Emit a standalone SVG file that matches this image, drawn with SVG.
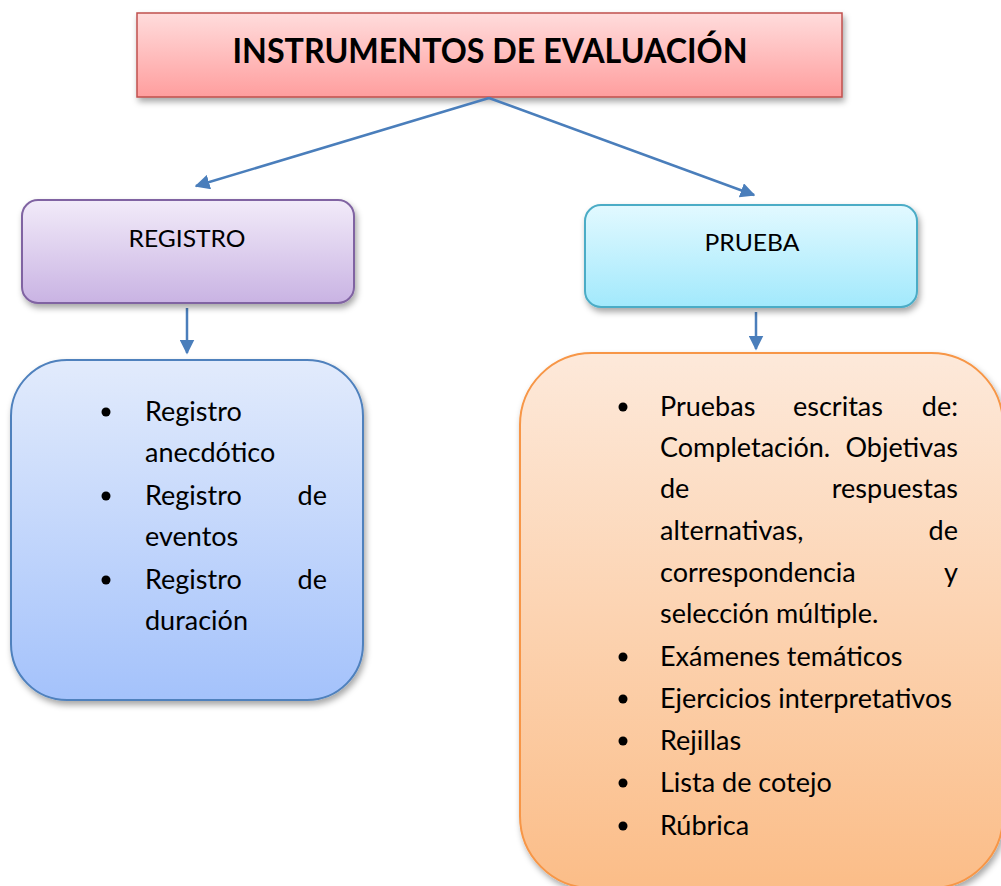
<svg xmlns="http://www.w3.org/2000/svg" width="1001" height="886" viewBox="0 0 1001 886">
<defs>
<linearGradient id="gRed" x1="0" y1="0" x2="0" y2="1"><stop offset="0" stop-color="#ffdcdc"/><stop offset="1" stop-color="#ff9e9e"/></linearGradient>
<linearGradient id="gPur" x1="0" y1="0" x2="0" y2="1"><stop offset="0" stop-color="#f2ebf9"/><stop offset="1" stop-color="#c9b3e3"/></linearGradient>
<linearGradient id="gCyan" x1="0" y1="0" x2="0" y2="1"><stop offset="0" stop-color="#e2f9ff"/><stop offset="1" stop-color="#a2e9fc"/></linearGradient>
<linearGradient id="gBlue" x1="0" y1="0" x2="0" y2="1"><stop offset="0" stop-color="#e2ebfc"/><stop offset="1" stop-color="#a4c2fb"/></linearGradient>
<linearGradient id="gOr" x1="0" y1="0" x2="0" y2="1"><stop offset="0" stop-color="#fde9da"/><stop offset="1" stop-color="#fbbd88"/></linearGradient>
<filter id="sh" x="-10%" y="-10%" width="125%" height="130%"><feDropShadow dx="2" dy="4" stdDeviation="3" flood-color="#000" flood-opacity="0.35"/></filter>
<marker id="ah" viewBox="0 0 10 10" refX="9" refY="5" markerWidth="6" markerHeight="6" orient="auto" markerUnits="strokeWidth"><path d="M0,0 L10,5 L0,10 z" fill="#4a7ebb"/></marker>
</defs>
<style>
text{font-family:Lato,"Noto Sans",sans-serif;fill:#000}
.t{font-size:27px}
.h{font-size:24px}
.b{fill:#000}
.c{stroke:#4a7ebb;stroke-width:2.5;fill:none}
</style>
<g id="title">
<rect x="137" y="13" width="705" height="84" fill="url(#gRed)" stroke="#c0504d" stroke-width="1.5" filter="url(#sh)"/>
<text x="490" y="63" text-anchor="middle" font-size="34" font-weight="bold" textLength="515" lengthAdjust="spacingAndGlyphs">INSTRUMENTOS DE EVALUACIÓN</text>
</g>
<g id="connectors">
<line class="c" x1="489" y1="98" x2="196" y2="186" marker-end="url(#ah)"/>
<line class="c" x1="489" y1="98" x2="754" y2="195" marker-end="url(#ah)"/>
<line class="c" x1="187" y1="308" x2="187" y2="353" marker-end="url(#ah)"/>
<line class="c" x1="756" y1="312" x2="756" y2="349" marker-end="url(#ah)"/>
</g>
<g id="registro">
<rect x="22" y="200" width="332" height="103" rx="16" fill="url(#gPur)" stroke="#8064a2" stroke-width="2" filter="url(#sh)"/>
<text class="h" x="187" y="247" text-anchor="middle" textLength="117" lengthAdjust="spacingAndGlyphs">REGISTRO</text>
</g>
<g id="prueba">
<rect x="585" y="205" width="332" height="102" rx="16" fill="url(#gCyan)" stroke="#4bacc6" stroke-width="2" filter="url(#sh)"/>
<text class="h" x="752" y="251" text-anchor="middle" textLength="95" lengthAdjust="spacingAndGlyphs">PRUEBA</text>
</g>
<g id="registro-list">
<rect x="11" y="360" width="352" height="340" rx="56" fill="url(#gBlue)" stroke="#4f81bd" stroke-width="2" filter="url(#sh)"/>
<circle class="b" cx="106" cy="412" r="4.5"/>
<circle class="b" cx="106" cy="496" r="4.5"/>
<circle class="b" cx="106" cy="580" r="4.5"/>
<text class="t" x="145" y="421">Registro</text>
<text class="t" x="145" y="462">anecdótico</text>
<text class="t" x="145" y="505">Registro</text>
<text class="t" x="327" y="505" text-anchor="end">de</text>
<text class="t" x="145" y="546">eventos</text>
<text class="t" x="145" y="589">Registro</text>
<text class="t" x="327" y="589" text-anchor="end">de</text>
<text class="t" x="145" y="630">duración</text>
</g>
<g id="prueba-list">
<rect x="520" y="353" width="483" height="535" rx="72" fill="url(#gOr)" stroke="#f79646" stroke-width="2" filter="url(#sh)"/>
<circle class="b" cx="623" cy="407" r="4.5"/>
<circle class="b" cx="623" cy="657" r="4.5"/>
<circle class="b" cx="623" cy="699" r="4.5"/>
<circle class="b" cx="623" cy="741" r="4.5"/>
<circle class="b" cx="623" cy="783" r="4.5"/>
<circle class="b" cx="623" cy="826" r="4.5"/>
<text class="t" x="660" y="416">Pruebas</text>
<text class="t" x="793" y="416">escritas</text>
<text class="t" x="958" y="416" text-anchor="end">de:</text>
<text class="t" x="660" y="457">Completación.</text>
<text class="t" x="958" y="457" text-anchor="end">Objetivas</text>
<text class="t" x="660" y="498">de</text>
<text class="t" x="958" y="498" text-anchor="end">respuestas</text>
<text class="t" x="660" y="540">alternativas,</text>
<text class="t" x="958" y="540" text-anchor="end">de</text>
<text class="t" x="660" y="582">correspondencia</text>
<text class="t" x="958" y="582" text-anchor="end">y</text>
<text class="t" x="660" y="623">selección múltiple.</text>
<text class="t" x="660" y="666">Exámenes temáticos</text>
<text class="t" x="660" y="708">Ejercicios interpretativos</text>
<text class="t" x="660" y="750">Rejillas</text>
<text class="t" x="660" y="792">Lista de cotejo</text>
<text class="t" x="660" y="835">Rúbrica</text>
</g>
</svg>
